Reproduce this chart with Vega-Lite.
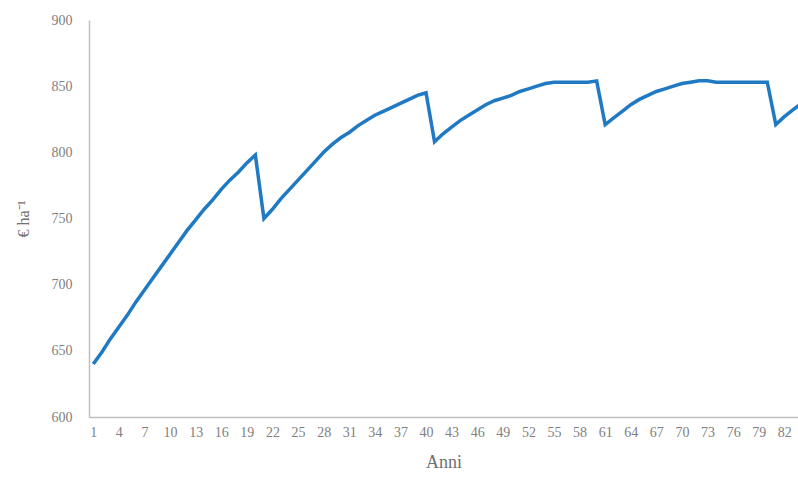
{
  "$schema": "https://vega.github.io/schema/vega-lite/v6.json",
  "autosize": "none",
  "width": 709,
  "height": 397,
  "padding": {"left": 89, "top": 20, "right": 0, "bottom": 66},
  "background": "white",
  "config": {
    "view": {"stroke": null},
    "font": "Liberation Serif",
    "axis": {"grid": false, "ticks": false, "domainColor": "#bfbfbf", "domainWidth": 1.5, "labelColor": "#808080", "titleColor": "#707070", "labelFont": "Liberation Serif", "titleFont": "Liberation Serif", "titleFontWeight": "normal"}
  },
  "data": {"values": [
    {"anno": 1, "v": 640}, {"anno": 2, "v": 649}, {"anno": 3, "v": 659}, {"anno": 4, "v": 668},
    {"anno": 5, "v": 677}, {"anno": 6, "v": 687}, {"anno": 7, "v": 696}, {"anno": 8, "v": 705},
    {"anno": 9, "v": 714}, {"anno": 10, "v": 723}, {"anno": 11, "v": 732}, {"anno": 12, "v": 741},
    {"anno": 13, "v": 749}, {"anno": 14, "v": 757}, {"anno": 15, "v": 764}, {"anno": 16, "v": 772},
    {"anno": 17, "v": 779}, {"anno": 18, "v": 785}, {"anno": 19, "v": 792}, {"anno": 20, "v": 798},
    {"anno": 21, "v": 750}, {"anno": 22, "v": 757}, {"anno": 23, "v": 765}, {"anno": 24, "v": 772},
    {"anno": 25, "v": 779}, {"anno": 26, "v": 786}, {"anno": 27, "v": 793}, {"anno": 28, "v": 800},
    {"anno": 29, "v": 806}, {"anno": 30, "v": 811}, {"anno": 31, "v": 815}, {"anno": 32, "v": 820},
    {"anno": 33, "v": 824}, {"anno": 34, "v": 828}, {"anno": 35, "v": 831}, {"anno": 36, "v": 834},
    {"anno": 37, "v": 837}, {"anno": 38, "v": 840}, {"anno": 39, "v": 843}, {"anno": 40, "v": 845},
    {"anno": 41, "v": 808}, {"anno": 42, "v": 814}, {"anno": 43, "v": 819}, {"anno": 44, "v": 824},
    {"anno": 45, "v": 828}, {"anno": 46, "v": 832}, {"anno": 47, "v": 836}, {"anno": 48, "v": 839},
    {"anno": 49, "v": 841}, {"anno": 50, "v": 843}, {"anno": 51, "v": 846}, {"anno": 52, "v": 848},
    {"anno": 53, "v": 850}, {"anno": 54, "v": 852}, {"anno": 55, "v": 853}, {"anno": 56, "v": 853},
    {"anno": 57, "v": 853}, {"anno": 58, "v": 853}, {"anno": 59, "v": 853}, {"anno": 60, "v": 854},
    {"anno": 61, "v": 821}, {"anno": 62, "v": 826}, {"anno": 63, "v": 831}, {"anno": 64, "v": 836},
    {"anno": 65, "v": 840}, {"anno": 66, "v": 843}, {"anno": 67, "v": 846}, {"anno": 68, "v": 848},
    {"anno": 69, "v": 850}, {"anno": 70, "v": 852}, {"anno": 71, "v": 853}, {"anno": 72, "v": 854},
    {"anno": 73, "v": 854}, {"anno": 74, "v": 853}, {"anno": 75, "v": 853}, {"anno": 76, "v": 853},
    {"anno": 77, "v": 853}, {"anno": 78, "v": 853}, {"anno": 79, "v": 853}, {"anno": 80, "v": 853},
    {"anno": 81, "v": 821}, {"anno": 82, "v": 827}, {"anno": 83, "v": 832}, {"anno": 84, "v": 837}
  ]},
  "mark": {"type": "line", "color": "#1f79c3", "strokeWidth": 3.5, "clip": true},
  "encoding": {
    "x": {
      "field": "anno", "type": "quantitative",
      "scale": {"domain": [0.5, 83.6], "nice": false, "zero": false},
      "axis": {
        "title": "Anni",
        "values": [1, 4, 7, 10, 13, 16, 19, 22, 25, 28, 31, 34, 37, 40, 43, 46, 49, 52, 55, 58, 61, 64, 67, 70, 73, 76, 79, 82],
        "labelFontSize": 14, "labelPadding": 8, "labelFlush": false, "labelOverlap": false,
        "titleFontSize": 18, "titlePadding": 14
      }
    },
    "y": {
      "field": "v", "type": "quantitative",
      "scale": {"domain": [600, 900], "nice": false, "zero": false},
      "axis": {
        "title": "€ ha⁻¹",
        "values": [600, 650, 700, 750, 800, 850, 900],
        "labelFontSize": 14, "labelPadding": 17,
        "titleFontSize": 16, "titlePadding": 20
      }
    }
  }
}
